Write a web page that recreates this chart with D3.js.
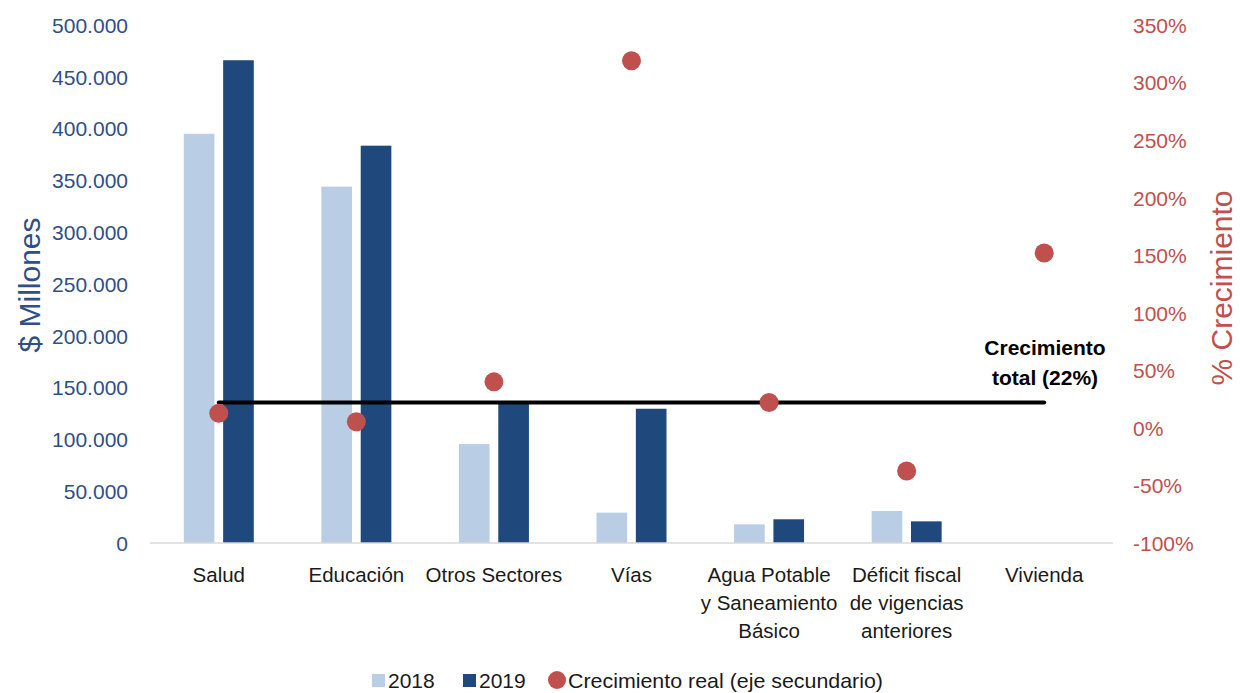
<!DOCTYPE html>
<html><head><meta charset="utf-8">
<script src="https://cdn.jsdelivr.net/npm/d3@7"></script>
<style>body{margin:0;background:#fff}svg{display:block;font-family:"Liberation Sans",Arial,sans-serif}</style>
</head><body><svg id="c" width="1240" height="693"></svg>
<script>
const categories = [["Salud"],["Educación"],["Otros Sectores"],["Vías"],["Agua Potable","y Saneamiento","Básico"],["Déficit fiscal","de vigencias","anteriores"],["Vivienda"]];
const series = ["2018","2019"];
const values2018 = [395000, 344000, 95500, 29300, 18000, 30900, 0];
const values2019 = [466000, 383500, 137000, 129600, 22900, 20900, 0];
const growth = [12.7, 5.4, 40, 319, 22, -37.5, 152];
const totalGrowth = 22;
const leftTicks = [0,50000,100000,150000,200000,250000,300000,350000,400000,450000,500000];
const rightTicks = [-100,-50,0,50,100,150,200,250,300,350];

const svg = d3.select("#c");
const L = 150, R = 1113, T = 25, B = 543;
const names = categories.map(c => c.join(" "));
const x0 = d3.scaleBand().domain(names).range([L, R]);
const x1 = d3.scaleBand().domain(series).range([-35, 35]).paddingInner(0.221);
const yL = d3.scaleLinear().domain([0, 500000]).range([B, T]);
const yR = d3.scaleLinear().domain([-100, 350]).range([B, T]);
const colors = {"2018":"#b9cde5","2019":"#1f497d"};
const fmt = v => d3.format(",")(v).replace(/,/g, ".");

// bars
const data = names.map((n,i)=>({n, v:{"2018":values2018[i],"2019":values2019[i]}}));
const g = svg.append("g");
data.forEach(d=>{
  series.forEach(s=>{
    if (d.v[s] <= 0) return;
    g.append("rect")
      .attr("x", x0(d.n) + x0.bandwidth()/2 + x1(s))
      .attr("width", x1.bandwidth())
      .attr("y", yL(d.v[s]))
      .attr("height", yL(0) - yL(d.v[s]))
      .attr("fill", colors[s]);
  });
});

// baseline
svg.append("line").attr("x1",L).attr("x2",R).attr("y1",yL(0)).attr("y2",yL(0))
  .attr("stroke","#d9d9d9").attr("stroke-width",1.5);

// left axis
const axL = d3.axisLeft(yL).tickValues(leftTicks).tickFormat(fmt).tickSize(0).tickPadding(0);
const gl = svg.append("g").attr("transform","translate(128,0)").call(axL);
gl.select(".domain").remove();
gl.selectAll("text").attr("font-size",21).attr("fill","#2f4f86").attr("font-family","Liberation Sans, Arial").attr("dy","0.35em");

// right axis
const axR = d3.axisRight(yR).tickValues(rightTicks).tickFormat(d=>d+"%").tickSize(0).tickPadding(0);
const gr = svg.append("g").attr("transform","translate(1133,0)").call(axR);
gr.select(".domain").remove();
gr.selectAll("text").attr("font-size",21).attr("fill","#c0504d").attr("font-family","Liberation Sans, Arial").attr("dy","0.35em");

// axis titles
svg.append("text").attr("transform","translate(40,285) rotate(-90)").attr("text-anchor","middle")
  .attr("font-size",30).attr("fill","#2f4f86").text("$ Millones");
svg.append("text").attr("transform","translate(1232,288) rotate(-90)").attr("text-anchor","middle")
  .attr("font-size",30).attr("fill","#c0504d").text("% Crecimiento");

// category labels
categories.forEach((c,i)=>{
  const t = svg.append("text").attr("text-anchor","middle").attr("font-size",20.5).attr("fill","#1a1a1a");
  c.forEach((line,j)=>{
    t.append("tspan").attr("x", x0(names[i]) + x0.bandwidth()/2).attr("y", 582 + j*28).text(line);
  });
});

// total growth line
const cx = n => x0(n) + x0.bandwidth()/2;
svg.append("line").attr("x1",cx(names[0])).attr("x2",cx(names[names.length-1]))
  .attr("y1",yR(totalGrowth)).attr("y2",yR(totalGrowth))
  .attr("stroke","#000").attr("stroke-width",4).attr("stroke-linecap","round");

// dots
names.forEach((n,i)=>{
  svg.append("circle").attr("cx",cx(n)).attr("cy",yR(growth[i])).attr("r",9.5).attr("fill","#c0504d");
});

// annotation
const ann = svg.append("text").attr("text-anchor","middle").attr("font-size",21).attr("font-weight","bold").attr("fill","#000");
ann.append("tspan").attr("x",1045).attr("y",355).text("Crecimiento");
ann.append("tspan").attr("x",1045).attr("y",385).text("total (22%)");

// legend
const lg = svg.append("g");
lg.append("rect").attr("x",372).attr("y",674).attr("width",13).attr("height",13).attr("fill",colors["2018"]);
lg.append("text").attr("x",388).attr("y",688).attr("font-size",21).attr("fill","#1a1a1a").text("2018");
lg.append("rect").attr("x",463).attr("y",674).attr("width",13).attr("height",13).attr("fill",colors["2019"]);
lg.append("text").attr("x",479).attr("y",688).attr("font-size",21).attr("fill","#1a1a1a").text("2019");
lg.append("circle").attr("cx",557).attr("cy",680).attr("r",9).attr("fill","#c0504d");
lg.append("text").attr("x",568).attr("y",688).attr("font-size",21).attr("fill","#1a1a1a")
  .attr("textLength",315).attr("lengthAdjust","spacingAndGlyphs").text("Crecimiento real (eje secundario)");
</script></body></html>
